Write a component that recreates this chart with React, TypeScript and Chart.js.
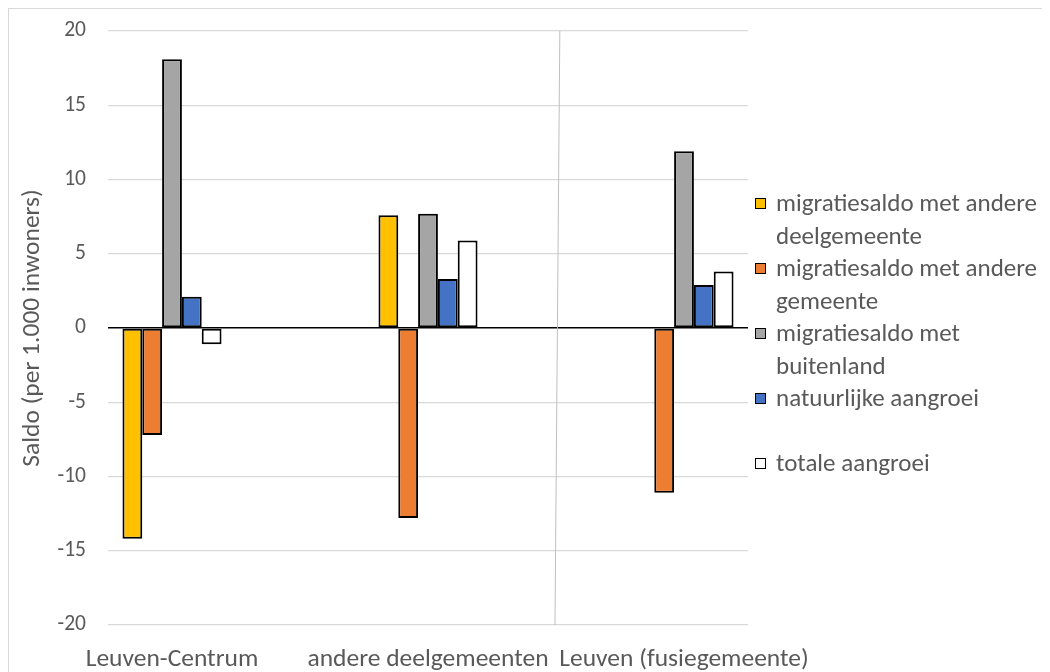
import React, { useEffect, useRef } from "react";
import { Chart, registerables } from "chart.js";

Chart.register(...registerables);

const categories = ["Leuven-Centrum", "andere deelgemeenten", "Leuven (fusiegemeente)"];
const seriesNames = [
  ["migratiesaldo met andere", "deelgemeente"],
  ["migratiesaldo met andere", "gemeente"],
  ["migratiesaldo met", "buitenland"],
  ["natuurlijke aangroei"],
  [""],
  ["totale aangroei"],
];
const andereDeelgemeente = [-14.2, 7.6, null];
const andereGemeente = [-7.2, -12.8, -11.1];
const buitenland = [18.1, 7.7, 11.9];
const natuurlijkeAangroei = [2.1, 3.3, 2.9];
const totaleAangroei = [-1.1, 5.9, 3.8];
const seriesColors = ["#FFC000", "#ED7D31", "#A5A5A5", "#4472C4", "", "#FFFFFF"];
const yTickMin = -20;
const yTickMax = 20;
const yTickStep = 5;
const yTitle = "Saldo (per 1.000 inwoners)";

const FONT = "Carlito, Lato, sans-serif";
const TEXT = "#595959";
const CW = 1040;
const CH = 663;

export default function App() {
  const ref = useRef<HTMLCanvasElement | null>(null);

  useEffect(() => {
    if (!ref.current) return;
    const series = [andereDeelgemeente, andereGemeente, buitenland, natuurlijkeAangroei, totaleAangroei];
    const names = [seriesNames[0], seriesNames[1], seriesNames[2], seriesNames[3], seriesNames[5]];
    const colors = [seriesColors[0], seriesColors[1], seriesColors[2], seriesColors[3], seriesColors[5]];

    const strayLine = {
      id: "strayLine",
      beforeDatasetsDraw(chart: any) {
        const { ctx, scales } = chart;
        const x = scales.x;
        const y = scales.y;
        ctx.save();
        ctx.strokeStyle = "#bfbfbf";
        ctx.lineWidth = 1;
        ctx.beginPath();
        ctx.moveTo(x.getPixelForValue(1.515), y.getPixelForValue(yTickMax));
        ctx.lineTo(x.getPixelForValue(1.496), y.getPixelForValue(yTickMin));
        ctx.stroke();
        ctx.restore();
      },
    };

    const chart = new Chart(ref.current, {
      type: "bar",
      data: {
        datasets: series.map((vals, i) => ({
          label: names[i].join(" "),
          data: vals.map((v, j) => ({ x: j, y: v })),
          backgroundColor: colors[i],
          borderColor: "#000000",
          borderWidth: 2,
          borderSkipped: false,
          categoryPercentage: 0.387,
          barPercentage: 1,
        })),
      },
      options: {
        animation: false,
        responsive: false,
        maintainAspectRatio: false,
        layout: { padding: { top: 31 - 9, right: CW - (748 - 9), left: 0, bottom: 0 } },
        plugins: {
          legend: { display: false },
          tooltip: { enabled: false },
          title: { display: false },
        },
        scales: {
          x: {
            type: "linear",
            offset: false,
            min: -0.25,
            max: 2.25,
            afterBuildTicks: (s: any) => {
              s.ticks = categories.map((_, i) => ({ value: i }));
            },
            afterFit: (s: any) => {
              s.height = CH - (625 - 9);
            },
            ticks: {
              callback: (v: any) => categories[v as number] ?? "",
              font: { family: FONT, size: 25.5 },
              color: TEXT,
              padding: 19,
              autoSkip: false,
              maxRotation: 0,
            },
            grid: { display: false, drawTicks: false },
            border: { display: false },
          },
          y: {
            min: yTickMin,
            max: yTickMax,
            afterFit: (s: any) => {
              s.width = 108 - 9;
              s.paddingTop = 0;
              s.paddingBottom = 0;
            },
            ticks: {
              stepSize: yTickStep,
              font: { family: FONT, size: 21.5 },
              color: TEXT,
              padding: 22,
            },
            grid: {
              drawTicks: false,
              color: (c: any) => (c.tick && c.tick.value === 0 ? "#000000" : "#d9d9d9"),
              lineWidth: (c: any) => (c.tick && c.tick.value === 0 ? 1.6 : 1.3),
            },
            border: { display: false },
            title: {
              display: true,
              text: yTitle,
              font: { family: FONT, size: 25.5 },
              color: TEXT,
              padding: { top: 8, bottom: 0 },
            },
          },
        },
      },
      plugins: [strayLine],
    } as any);
    return () => chart.destroy();
  }, []);

  return (
    <div
      style={{
        position: "relative",
        width: 1060,
        height: 700,
        border: "1px solid #d9d9d9",
        boxSizing: "content-box",
      }}
    >
      <canvas
        ref={ref}
        width={CW}
        height={CH}
        style={{ position: "absolute", left: 0, top: 0, width: CW, height: CH }}
      />
      <div
        style={{
          position: "absolute",
          left: 755 - 9,
          top: 187 - 9,
          fontFamily: FONT,
          fontSize: 25,
          color: TEXT,
          lineHeight: "32.5px",
          whiteSpace: "nowrap",
        }}
      >
        {seriesNames.map((lines, i) => (
          <div key={i} style={{ display: "flex", alignItems: "flex-start" }}>
            <div
              style={{
                width: 12,
                height: 32.5,
                display: "flex",
                alignItems: "center",
                marginRight: 9,
              }}
            >
              {seriesColors[i] ? (
                <div
                  style={{
                    width: 9,
                    height: 9,
                    background: seriesColors[i],
                    border: "1.5px solid #000",
                  }}
                />
              ) : null}
            </div>
            <div>
              {lines.map((t, k) => (
                <div key={k} style={{ height: 32.5 }}>
                  {t || "\u00a0"}
                </div>
              ))}
            </div>
          </div>
        ))}
      </div>
    </div>
  );
}
